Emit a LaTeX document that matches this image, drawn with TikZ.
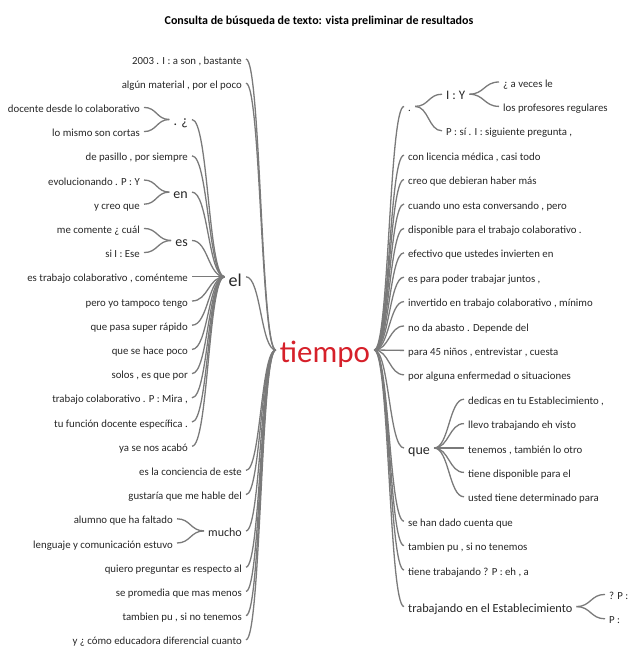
\documentclass[tikz,border=0pt]{standalone}
\usepackage{fontspec}
\setmainfont{Carlito}
\usetikzlibrary{calc}
\definecolor{rootred}{RGB}{214,32,42}
\definecolor{linkgray}{RGB}{122,122,122}

\begin{document}
\begin{tikzpicture}[
    x=1pt, y=-1pt,
    word/.style={
      font=\fontsize{10.8}{12}\selectfont,
      text=black!85,
      inner xsep=4pt, inner ysep=0pt,
      text height=10pt, text depth=0pt
    },
    twig/.style={
      word,
      font=\fontsize{14}{16}\selectfont,
      text height=12pt
    },
    branch/.style={
      draw=linkgray, line width=1.3pt,
      to path={let \p1=(\tikztostart), \p2=(\tikztotarget) in
        .. controls ({(\x1+\x2)/2},\y1) and ({(\x1+\x2)/2},\y2) .. (\tikztotarget)}
    }
  ]

    \useasboundingbox (0,0) rectangle (632,648);

    \node[font=\bfseries\fontsize{12}{14}\selectfont] (title) at (319,21)
      {Consulta de búsqueda de texto: vista preliminar de resultados};

    \node[word, font=\fontsize{31}{31}\selectfont, text=rootred,
      text height=24pt] (tiempo) at (325,350) {tiempo};

    % left side
    \node[word, anchor=east] (l0) at (246,59) {2003 . I : a son , bastante};
    \node[word, anchor=east] (l1) at (246,83.2) {algún material , por el poco};
    \node[word, anchor=east, font=\fontsize{18}{20}\selectfont,
      text height=20pt] (el) at (246,276.8) {el};
    \node[word, anchor=east] (l17) at (246,470.4) {es la conciencia de este};
    \node[word, anchor=east] (l18) at (246,494.6) {gustaría que me hable del};
    \node[word, anchor=east, font=\fontsize{12}{14}\selectfont,
      text height=11pt] (mucho) at (246,530.9) {mucho};
    \node[word, anchor=east] (l21) at (246,567.2) {quiero preguntar es respecto al};
    \node[word, anchor=east] (l22) at (246,591.4) {se promedia que mas menos};
    \node[word, anchor=east] (l23) at (246,615.6) {tambien pu , si no tenemos};
    \node[word, anchor=east] (l24) at (246,639.8) {y ¿ cómo educadora diferencial cuanto};

    \node[twig, anchor=east] (ask) at (192,119.5) {. ¿};
    \node[word, anchor=east] (l4) at (192,155.8) {de pasillo , por siempre};
    \node[twig, anchor=east] (en) at (192,192.1) {en};
    \node[twig, anchor=east] (es) at (192,240.5) {es};
    \node[word, anchor=east] (l9) at (192,276.8) {es trabajo colaborativo , coménteme};
    \node[word, anchor=east] (l10) at (192,301) {pero yo tampoco tengo};
    \node[word, anchor=east] (l11) at (192,325.2) {que pasa super rápido};
    \node[word, anchor=east] (l12) at (192,349.4) {que se hace poco};
    \node[word, anchor=east] (l13) at (192,373.6) {solos , es que por};
    \node[word, anchor=east] (l14) at (192,397.8) {trabajo colaborativo . P : Mira ,};
    \node[word, anchor=east] (l15) at (192,422) {tu función docente específica .};
    \node[word, anchor=east] (l16) at (192,446.2) {ya se nos acabó};

    \node[word, anchor=east] (l2) at (144,107.4) {docente desde lo colaborativo};
    \node[word, anchor=east] (l3) at (144,131.6) {lo mismo son cortas};
    \node[word, anchor=east] (l5) at (144,180) {evolucionando . P : Y};
    \node[word, anchor=east] (l6) at (144,204.2) {y creo que};
    \node[word, anchor=east] (l7) at (144,228.4) {me comente ¿ cuál};
    \node[word, anchor=east] (l8) at (144,252.6) {si I : Ese};

    \node[word, anchor=east] (l19) at (177,518.8) {alumno que ha faltado};
    \node[word, anchor=east] (l20) at (177,543) {lenguaje y comunicación estuvo};

    % right side
    \node[word, anchor=west] (dot) at (404,106.4) {.};
    \node[word, anchor=west] (r3) at (404,155.2) {con licencia médica , casi todo};
    \node[word, anchor=west] (r4) at (404,179.6) {creo que debieran haber más};
    \node[word, anchor=west] (r5) at (404,204) {cuando uno esta conversando , pero};
    \node[word, anchor=west] (r6) at (404,228.4) {disponible para el trabajo colaborativo .};
    \node[word, anchor=west] (r7) at (404,252.8) {efectivo que ustedes invierten en};
    \node[word, anchor=west] (r8) at (404,277.2) {es para poder trabajar juntos ,};
    \node[word, anchor=west] (r9) at (404,301.6) {invertido en trabajo colaborativo , mínimo};
    \node[word, anchor=west] (r10) at (404,326) {no da abasto . Depende del};
    \node[word, anchor=west] (r11) at (404,350.4) {para 45 niños , entrevistar , cuesta};
    \node[word, anchor=west] (r12) at (404,374.8) {por alguna enfermedad o situaciones};
    \node[twig, anchor=west] (que) at (404,448) {que};
    \node[word, anchor=west] (r18) at (404,521.2) {se han dado cuenta que};
    \node[word, anchor=west] (r19) at (404,545.6) {tambien pu , si no tenemos};
    \node[word, anchor=west] (r20) at (404,570) {tiene trabajando ? P : eh , a};
    \node[word, anchor=west, font=\fontsize{12.3}{14}\selectfont,
      text height=11pt] (trab) at (404,606.6) {trabajando en el Establecimiento};

    \node[word, anchor=west, font=\fontsize{13}{15}\selectfont,
      text height=11pt] (iy) at (442,94.2) {I : Y};
    \node[word, anchor=west] (r2) at (442,130.8) {P : sí . I : siguiente pregunta ,};
    \node[word, anchor=west] (r0) at (499,82) {¿ a veces le};
    \node[word, anchor=west] (r1) at (499,106.4) {los profesores regulares};

    \node[word, anchor=west] (r13) at (464,399.2) {dedicas en tu Establecimiento ,};
    \node[word, anchor=west] (r14) at (464,423.6) {llevo trabajando eh visto};
    \node[word, anchor=west] (r15) at (464,448) {tenemos , también lo otro};
    \node[word, anchor=west] (r16) at (464,472.4) {tiene disponible para el};
    \node[word, anchor=west] (r17) at (464,496.8) {usted tiene determinado para};

    \node[word, anchor=west] (r21) at (605,594.4) {? P :};
    \node[word, anchor=west] (r22) at (605,618.8) {P :};

    % links to the left
    \draw[branch] (tiempo.west) to (l0.east);
    \draw[branch] (tiempo.west) to (l1.east);
    \draw[branch] (tiempo.west) to (el.east);
    \draw[branch] (tiempo.west) to (l17.east);
    \draw[branch] (tiempo.west) to (l18.east);
    \draw[branch] (tiempo.west) to (mucho.east);
    \draw[branch] (tiempo.west) to (l21.east);
    \draw[branch] (tiempo.west) to (l22.east);
    \draw[branch] (tiempo.west) to (l23.east);
    \draw[branch] (tiempo.west) to (l24.east);

    \draw[branch] (el.west) to (ask.east);
    \draw[branch] (el.west) to (l4.east);
    \draw[branch] (el.west) to (en.east);
    \draw[branch] (el.west) to (es.east);
    \draw[branch] (el.west) to (l9.east);
    \draw[branch] (el.west) to (l10.east);
    \draw[branch] (el.west) to (l11.east);
    \draw[branch] (el.west) to (l12.east);
    \draw[branch] (el.west) to (l13.east);
    \draw[branch] (el.west) to (l14.east);
    \draw[branch] (el.west) to (l15.east);
    \draw[branch] (el.west) to (l16.east);

    \draw[branch] (ask.west) to (l2.east);
    \draw[branch] (ask.west) to (l3.east);
    \draw[branch] (en.west) to (l5.east);
    \draw[branch] (en.west) to (l6.east);
    \draw[branch] (es.west) to (l7.east);
    \draw[branch] (es.west) to (l8.east);
    \draw[branch] (mucho.west) to (l19.east);
    \draw[branch] (mucho.west) to (l20.east);

    % links to the right
    \draw[branch] (tiempo.east) to (dot.west);
    \draw[branch] (tiempo.east) to (r3.west);
    \draw[branch] (tiempo.east) to (r4.west);
    \draw[branch] (tiempo.east) to (r5.west);
    \draw[branch] (tiempo.east) to (r6.west);
    \draw[branch] (tiempo.east) to (r7.west);
    \draw[branch] (tiempo.east) to (r8.west);
    \draw[branch] (tiempo.east) to (r9.west);
    \draw[branch] (tiempo.east) to (r10.west);
    \draw[branch] (tiempo.east) to (r11.west);
    \draw[branch] (tiempo.east) to (r12.west);
    \draw[branch] (tiempo.east) to (que.west);
    \draw[branch] (tiempo.east) to (r18.west);
    \draw[branch] (tiempo.east) to (r19.west);
    \draw[branch] (tiempo.east) to (r20.west);
    \draw[branch] (tiempo.east) to (trab.west);

    \draw[branch] (dot.east) to (iy.west);
    \draw[branch] (dot.east) to (r2.west);
    \draw[branch] (iy.east) to (r0.west);
    \draw[branch] (iy.east) to (r1.west);
    \draw[branch] (que.east) to (r13.west);
    \draw[branch] (que.east) to (r14.west);
    \draw[branch] (que.east) to (r15.west);
    \draw[branch] (que.east) to (r16.west);
    \draw[branch] (que.east) to (r17.west);
    \draw[branch] (trab.east) to (r21.west);
    \draw[branch] (trab.east) to (r22.west);

  \end{tikzpicture}
\end{document}
